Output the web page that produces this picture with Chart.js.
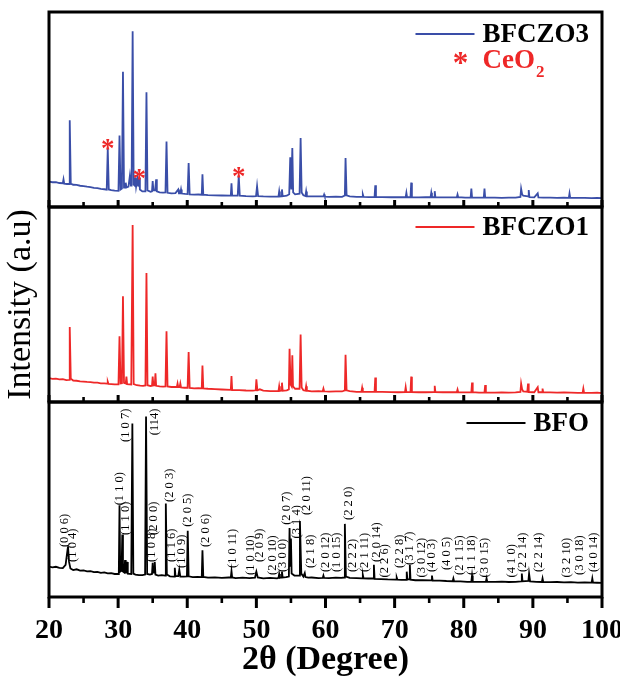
<!DOCTYPE html>
<html>
<head>
<meta charset="utf-8">
<script src="https://cdn.jsdelivr.net/npm/chart.js@4"></script>
<style>
html,body{margin:0;padding:0;background:#fff;}
canvas{display:block;}
</style>
</head>
<body>
<canvas id="c" width="620" height="678"></canvas>
<script>
// ---------- DATA (2θ in degrees, intensity in % of panel height) ----------
const seriesNames = ['BFCZO3', 'BFCZO1', 'BFO'];

const patternBFCZO3 = [[20,13],[20.5,12.7],[21,12.8],[21.5,12.3],[22,12.2],[22.1,14.2],[22.2,12],[22.6,11.8],[22.9,11.8],[23.0,44.5],[23.15,12],[23.5,11.4],[24,11.3],[24.5,10.9],[25,10.7],[25.5,10.4],[26,10.2],[26.5,9.8],[27,9.7],[27.5,9.3],[28,9.1],[28.35,8.9],[28.5,29.8],[28.65,9],[29,8.7],[29.5,8.4],[30.05,8.3],[30.2,36.7],[30.35,9],[30.55,9.5],[30.7,69.3],[30.85,10],[31.0,10],[31.1,12.5],[31.2,10],[31.5,10.5],[31.7,16],[31.85,11],[31.95,11],[32.1,90.1],[32.25,11.5],[32.4,11],[32.5,15.1],[32.6,10.5],[32.7,10.5],[32.8,15],[32.9,10.5],[32.95,10.5],[33.05,15],[33.15,9],[33.5,8],[33.95,8],[34.1,58.8],[34.25,8.5],[34.7,7.8],[34.9,8],[35.0,13.3],[35.1,8.5],[35.35,8.5],[35.5,14.2],[35.6,8],[36,7.5],[36.5,7.4],[36.85,7.5],[37.0,33.6],[37.15,7.3],[37.7,7],[38.3,7.1],[38.7,9],[38.8,7],[39.0,7],[39.1,9],[39.2,6.9],[39.7,6.7],[40.05,6.6],[40.2,22.5],[40.35,6.5],[41,6.3],[41.6,6.4],[42.1,6.3],[42.2,16.8],[42.32,6.3],[43,6.1],[44,6],[45,5.9],[46.3,5.8],[46.4,12.1],[46.5,5.8],[47.3,5.8],[47.45,16],[47.6,5.8],[48.5,5.6],[49.5,5.5],[49.95,5.6],[50.1,10.7],[50.25,5.6],[51,5.4],[52,5.3],[53.2,5.4],[53.3,8],[53.4,5.4],[53.6,5.5],[53.7,9],[53.8,5.5],[54.4,5.8],[54.75,6.5],[54.9,25.5],[55.05,9],[55.1,9],[55.2,30.3],[55.32,7.5],[55.6,6.5],[56.25,6.8],[56.4,35.4],[56.55,7.5],[56.8,6],[57.1,5.6],[57.2,8],[57.3,5.6],[58,5.4],[59,5.4],[59.7,5.4],[59.8,6.4],[59.9,5.3],[60.5,5.2],[61.5,5.3],[62.4,5.2],[62.8,5.9],[62.9,25.1],[63.05,6],[63.5,5.5],[64.5,5.2],[65.3,5.2],[65.4,6.4],[65.5,5.2],[66.3,5.1],[67.1,5.2],[67.2,11.1],[67.3,5.2],[68.2,5.1],[69.5,5],[70.5,5],[71.6,5.1],[71.7,7.3],[71.8,5],[72.3,5.1],[72.4,12.5],[72.5,5],[73.5,4.9],[74.5,5],[75.2,5],[75.3,7.3],[75.4,5],[75.7,5],[75.8,8.1],[75.9,5],[77,4.9],[78,4.9],[79,5],[79.1,6.4],[79.2,5],[80.2,4.8],[81.0,4.9],[81.1,9.4],[81.2,4.9],[82.2,4.8],[82.9,4.9],[83.0,9.4],[83.1,4.8],[84.5,4.8],[85.5,4.7],[86.5,4.8],[87.5,4.8],[88.2,5.2],[88.3,9.4],[88.45,6.5],[88.6,5.8],[89.3,5.4],[89.4,8.7],[89.5,5],[90.2,4.9],[90.7,7],[90.8,4.9],[91.5,4.8],[92.5,4.8],[93.5,4.7],[94.5,4.8],[95.2,4.7],[95.3,7],[95.4,4.7],[96.5,4.7],[97.5,4.7],[98.5,4.6],[99.3,4.7],[100,4.6]];

const patternBFCZO1 = [[20,12.2],[20.5,11.9],[21,12],[21.5,11.6],[22,11.7],[22.5,11.2],[22.9,11.3],[23.0,38.4],[23.15,12],[23.5,11],[24,10.9],[24.5,10.6],[25,10.5],[25.5,10.3],[26,10.2],[26.5,9.9],[27,9.9],[27.5,9.6],[28,9.5],[28.4,9.4],[28.5,10.4],[28.6,9.3],[29,9.2],[29.5,9],[30.05,9],[30.2,33.7],[30.35,9.5],[30.55,9.6],[30.7,54.2],[30.85,9.8],[31.1,9.5],[31.2,13],[31.3,9.2],[31.9,9],[32.1,90.8],[32.25,9.2],[32.7,8.6],[33.2,8.4],[33.6,8.3],[33.95,8.5],[34.1,66.1],[34.25,8.6],[34.7,8.2],[34.9,8.3],[35.0,13],[35.1,8.5],[35.3,8.6],[35.4,14.7],[35.5,8.3],[36,8],[36.5,7.9],[36.85,8],[37.0,36.3],[37.15,8],[37.7,7.7],[38.5,7.7],[38.6,9.5],[38.7,7.6],[38.9,7.6],[39.0,9.5],[39.1,7.5],[39.6,7.3],[40.05,7.3],[40.2,25.6],[40.35,7.2],[41,7],[41.6,7.1],[42.1,7],[42.2,18.7],[42.32,7],[43,6.8],[44,6.6],[45,6.4],[46.3,6.2],[46.4,13.3],[46.5,6.1],[47.5,6.1],[48.5,5.9],[49.5,5.8],[49.9,6],[50.0,11.6],[50.15,6],[50.5,6.5],[51,5.8],[52,5.6],[53.2,5.6],[53.3,8.1],[53.4,5.7],[53.6,5.8],[53.7,9.9],[53.8,5.8],[54.4,6],[54.7,6.5],[54.8,27.3],[54.95,9],[55.1,8],[55.2,23.9],[55.3,8],[55.6,6.8],[56.25,6.8],[56.4,34.6],[56.55,7.5],[56.8,6],[57.1,5.8],[57.2,8.1],[57.3,5.8],[58,5.5],[59,5.6],[59.6,5.5],[59.7,6.9],[59.8,5.5],[60.5,5.3],[61.5,5.4],[62.4,5.4],[62.8,6],[62.9,24.2],[63.05,6],[63.5,5.6],[64.5,5.2],[65.2,5.3],[65.3,7.3],[65.4,5.3],[66.3,5.2],[67.1,5.3],[67.2,12.6],[67.3,5.3],[68.2,5.2],[69.5,5.1],[70.5,5],[71.5,5.1],[71.6,7.6],[71.7,5.1],[72.3,5.2],[72.4,13],[72.5,5.1],[73.5,5],[74.5,5],[75.7,5.1],[75.8,8.3],[75.9,5.1],[77,5],[78,5],[79,5.1],[79.1,6.4],[79.2,5],[80.2,4.9],[81.1,5],[81.2,10],[81.3,5],[82.2,4.8],[83,4.9],[83.1,8.7],[83.2,4.9],[84.5,4.8],[85.5,4.9],[86.5,4.8],[87.5,4.9],[88.2,5.2],[88.3,9.5],[88.45,6.5],[88.6,5.5],[89.2,5.3],[89.3,9.5],[89.4,5.1],[90.2,5],[90.7,7.6],[90.8,5],[91.35,5],[91.4,6.9],[91.5,4.9],[92.5,4.9],[93.5,4.8],[94.5,4.9],[95.5,4.8],[96.5,4.7],[97.2,4.8],[97.3,6.9],[97.4,4.8],[98.5,4.7],[99.3,4.8],[100,4.6]];

const patternBFO = [[20,15.6],[20.5,15.2],[21,15.5],[21.5,14.9],[22,14.8],[22.4,16.5],[22.6,22],[22.75,26],[22.9,18],[23.1,14.6],[23.5,13.8],[24,14.2],[24.5,13.5],[25,13.6],[25.5,13.1],[26,13.3],[26.5,12.8],[27,12.9],[27.5,12.4],[28,12.6],[28.5,12.1],[29,12.2],[29.5,11.8],[30.0,11.8],[30.1,12],[30.2,47],[30.3,13],[30.5,13.5],[30.6,32],[30.7,13],[30.9,12.5],[31.0,19],[31.1,12.5],[31.25,12.5],[31.3,18],[31.4,12],[31.9,11.8],[32.06,89],[32.2,12],[32.5,11.5],[33,11.2],[33.5,11.2],[33.9,11.5],[34.04,92.5],[34.2,11.8],[34.6,11.5],[34.9,11.8],[35.0,17.5],[35.1,12.5],[35.2,12.5],[35.3,18],[35.4,11.5],[35.8,11],[36.3,11.2],[36.8,11],[36.9,48],[37.05,11.5],[37.5,10.6],[38.1,10.5],[38.2,15],[38.3,10.7],[38.7,10.7],[38.85,14],[39,10.5],[39.5,10.4],[39.95,10.5],[40.07,34],[40.2,10.6],[40.8,10.2],[41.5,10.3],[42.1,10.2],[42.2,24],[42.32,10.3],[43,9.9],[44,10.1],[45,9.8],[46,10],[46.3,10],[46.4,13.3],[46.5,10],[47,9.7],[48,9.9],[49,9.7],[49.8,9.9],[50.0,13],[50.2,10],[51,9.6],[52,9.8],[53,9.6],[53.2,9.8],[53.3,11.8],[53.4,9.8],[53.6,10],[53.7,13],[53.8,10],[54.3,10.2],[54.7,10.5],[54.8,35.4],[54.9,16],[55.0,30],[55.1,12],[55.5,11],[56.2,11],[56.3,39],[56.4,25],[56.5,12],[56.8,10.5],[57.0,12.3],[57.1,10.2],[57.5,9.9],[58,10],[59,9.7],[59.6,9.8],[59.7,11],[59.8,9.8],[60.5,9.7],[61.5,9.9],[62.3,9.8],[62.7,10],[62.8,37.5],[62.95,10.5],[63.5,9.8],[64.5,9.7],[65.3,9.6],[65.4,11.3],[65.5,9.6],[66.2,9.5],[66.9,9.5],[67.0,16.5],[67.1,9.3],[68,9.2],[69,9],[70.2,8.9],[70.3,10],[70.4,8.9],[71,8.8],[71.65,8.8],[71.75,13],[71.85,9],[72.1,9],[72.2,16.5],[72.3,8.9],[73,8.6],[74,8.7],[75.3,8.5],[75.4,11],[75.5,8.4],[76.5,8.4],[77.5,8.2],[78.4,8.1],[78.5,9.5],[78.6,8.1],[79.5,8],[80.5,7.8],[81.1,7.9],[81.2,11],[81.3,7.9],[82.3,7.8],[83.2,7.8],[83.3,9.5],[83.4,7.8],[84.5,7.8],[85.5,7.9],[86.5,7.7],[87.5,7.8],[88.3,8],[88.4,12],[88.5,8],[89.35,8.2],[89.45,12],[89.6,8],[90.5,7.8],[91.3,7.7],[91.4,9.5],[91.5,7.7],[92.5,7.6],[93.5,7.7],[94.5,7.5],[95.5,7.6],[96.5,7.4],[97.5,7.5],[98.5,7.4],[98.6,9.5],[98.7,7.4],[99.3,7.3],[100,7.2]];

// CeO2 impurity markers in BFCZO3 panel: [2θ, intensity]
const ceo2Markers = [[28.5, 33], [33.05, 17.5], [47.45, 18.5]];

// Miller indices for BFO panel: label text and [2θ, intensity where label starts]
const hklLabels = ['(0 0 6)','(1 0 4)','(1 1 0)','(1 1 0)','(1 0 7)','(114)','(1 0 8)','(2 0 0)','(2 0 3)','(1 1 6)','(1 0 9)','(2 0 5)','(2 0 6)','(1 0 11)','(1 0 10)','(2 0 9)','(2 0 10)','(3 0 0)','(2 0 7)','(3 1 4)','(2 0 11)','(2 1 8)','(2 0 12)','(1 0 15)','(2 2 0)','(2 2 2)','(2 1 11)','(2 0 14)','(2 2 6)','(2 2 8)','(3 1 7)','(3 0 12)','(4 0 3)','(4 0 5)','(2 1 15)','(1 1 18)','(3 0 15)','(4 1 0)','(2 2 14)','(2 2 14)','(3 2 10)','(3 0 18)','(4 0 14)'];
const hklAnchors = [[22.3,25.6],[23.5,18],[30.3,47],[31.1,31.8],[31.1,79.5],[35.3,83],[34.85,18],[35.1,31.8],[37.5,48.7],[37.8,18],[39.2,14.9],[40.1,36],[42.6,25.6],[46.6,14.9],[49.2,11.3],[50.5,18],[52.4,11.3],[53.8,12.8],[54.4,37],[55.8,30],[57.3,42],[57.8,14.9],[60.0,12.8],[61.6,12.8],[63.3,39.5],[63.9,12.8],[65.7,12.8],[67.4,18],[68.6,10],[70.8,14.9],[72.2,16.4],[73.9,10],[75.4,12.8],[77.5,13.8],[79.4,11.3],[81.2,11.3],[83.1,10],[87.0,10],[88.5,12.8],[90.8,12.8],[94.9,10],[96.8,11.3],[98.8,12.8]];

const xTickValues = [20, 30, 40, 50, 60, 70, 80, 90, 100];

// ---------- styling ----------
const SERIF = '"Liberation Serif", "Times New Roman", serif';
const colors = { BFCZO3: 'rgb(58,78,168)', BFCZO1: 'rgb(238,40,40)', BFO: '#000000' };
const toXY = arr => arr.map(p => ({ x: p[0], y: p[1] }));

const decorPlugin = {
  id: 'decor',
  afterDatasetsDraw(chart) {
    const ctx = chart.ctx;
    const xs = chart.scales.x;
    const area = chart.chartArea;
    ctx.save();
    ctx.strokeStyle = '#000';
    // panel frames and tick marks
    ['yTop', 'yMid', 'yBot'].forEach(id => {
      const s = chart.scales[id];
      for (let v = 20; v <= 100; v += 5) {
        const px = xs.getPixelForValue(v);
        const major = v % 10 === 0;
        ctx.lineWidth = major ? 3 : 2.6;
        ctx.beginPath();
        if (id === 'yBot') {
          ctx.moveTo(px, s.bottom);
          ctx.lineTo(px, s.bottom + (major ? 11 : 6));
        } else {
          ctx.moveTo(px, s.bottom);
          ctx.lineTo(px, s.bottom - (major ? 7 : 5));
        }
        ctx.stroke();
      }
      ctx.lineWidth = 3;
      ctx.strokeRect(area.left, s.top, area.right - area.left, s.bottom - s.top);
    });

    // Miller indices
    const yb = chart.scales.yBot;
    ctx.fillStyle = '#000';
    ctx.font = '12.5px ' + SERIF;
    ctx.textAlign = 'left';
    ctx.textBaseline = 'middle';
    hklLabels.forEach((t, i) => {
      const px = xs.getPixelForValue(hklAnchors[i][0]);
      const py = yb.getPixelForValue(hklAnchors[i][1]);
      ctx.save();
      ctx.translate(px, py);
      ctx.rotate(-Math.PI / 2);
      ctx.fillText(t, 0, 0);
      ctx.restore();
    });

    // CeO2 asterisks
    const yt = chart.scales.yTop;
    ctx.fillStyle = 'rgb(238,40,40)';
    ctx.font = 'bold 27px ' + SERIF;
    ctx.textAlign = 'center';
    ctx.textBaseline = 'alphabetic';
    ceo2Markers.forEach(m => {
      ctx.fillText('*', xs.getPixelForValue(m[0]), yt.getPixelForValue(m[1]) + 14);
    });

    // legends
    const drawLegend = (scaleId, name, color, dy) => {
      const s = chart.scales[scaleId];
      ctx.font = 'bold 27px ' + SERIF;
      ctx.textAlign = 'right';
      ctx.textBaseline = 'middle';
      ctx.fillStyle = '#000';
      const xr = area.right - 13;
      const y = s.top + dy;
      ctx.fillText(name, xr, y);
      const w = ctx.measureText(name).width;
      ctx.strokeStyle = color;
      ctx.lineWidth = 2;
      ctx.beginPath();
      ctx.moveTo(xr - w - 8, y - 1);
      ctx.lineTo(xr - w - 67, y - 1);
      ctx.stroke();
      return xr - w;
    };
    const tx = drawLegend('yTop', seriesNames[0], colors.BFCZO3, 23);
    drawLegend('yMid', seriesNames[1], colors.BFCZO1, 21);
    drawLegend('yBot', seriesNames[2], colors.BFO, 22);

    // CeO2 legend entry
    ctx.fillStyle = 'rgb(238,40,40)';
    ctx.textAlign = 'left';
    ctx.textBaseline = 'middle';
    ctx.font = 'bold 27px ' + SERIF;
    const cy = yt.top + 49;
    ctx.fillText('CeO', tx, cy);
    const cw = ctx.measureText('CeO').width;
    ctx.font = 'bold 17px ' + SERIF;
    ctx.fillText('2', tx + cw + 1, cy + 12);
    ctx.font = 'bold 31px ' + SERIF;
    ctx.textAlign = 'center';
    ctx.textBaseline = 'alphabetic';
    ctx.fillText('*', tx - 22, cy + 12);
    ctx.restore();
  }
};

const yCommon = (extra) => Object.assign({
  type: 'linear',
  position: 'left',
  stack: 'panels',
  stackWeight: 1,
  min: 0,
  max: 100,
  grid: { display: false, drawTicks: false },
  border: { display: false },
  ticks: { display: false },
  afterFit: s => { s.width = 49; }
}, extra);

new Chart(document.getElementById('c'), {
  type: 'line',
  data: {
    datasets: [
      { label: seriesNames[2], data: toXY(patternBFO), yAxisID: 'yBot', borderColor: colors.BFO, borderWidth: 1.8, pointRadius: 0, tension: 0 },
      { label: seriesNames[1], data: toXY(patternBFCZO1), yAxisID: 'yMid', borderColor: colors.BFCZO1, borderWidth: 1.8, pointRadius: 0, tension: 0 },
      { label: seriesNames[0], data: toXY(patternBFCZO3), yAxisID: 'yTop', borderColor: colors.BFCZO3, borderWidth: 1.8, pointRadius: 0, tension: 0 }
    ]
  },
  options: {
    responsive: false,
    devicePixelRatio: 1,
    animation: false,
    layout: { padding: { left: 0, right: 18, top: 12, bottom: 0 } },
    plugins: { legend: { display: false }, tooltip: { enabled: false } },
    scales: {
      x: {
        type: 'linear',
        position: 'bottom',
        min: 20,
        max: 100,
        afterBuildTicks: s => { s.ticks = xTickValues.map(v => ({ value: v })); },
        grid: { display: false, drawTicks: false },
        border: { display: false },
        ticks: {
          color: '#000',
          padding: 20,
          maxRotation: 0,
          autoSkip: false,
          font: { family: SERIF, size: 28, weight: 'bold', lineHeight: 1 }
        },
        title: {
          display: true,
          text: '2θ (Degree)',
          color: '#000',
          padding: { top: 0, bottom: 1 },
          font: { family: SERIF, size: 34, weight: 'bold', lineHeight: 1 }
        },
        afterFit: s => { s.height = 81; s.paddingLeft = 0; s.paddingRight = 0; }
      },
      yBot: yCommon({}),
      yMid: yCommon({
        title: {
          display: true,
          text: 'Intensity (a.u)',
          color: '#000',
          padding: { top: 4, bottom: 0 },
          font: { family: SERIF, size: 34, lineHeight: 1 }
        }
      }),
      yTop: yCommon({})
    }
  },
  plugins: [decorPlugin]
});
</script>
</body>
</html>
